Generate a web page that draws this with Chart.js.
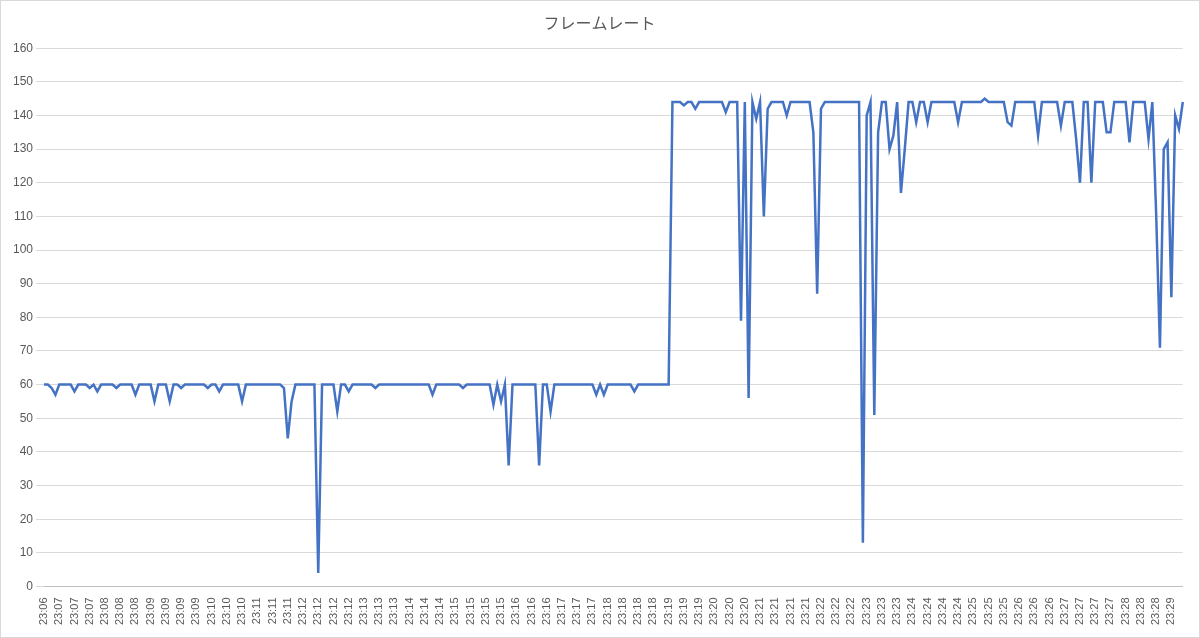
<!DOCTYPE html>
<html>
<head>
<meta charset="utf-8">
<script src="https://cdn.jsdelivr.net/npm/chart.js@4/dist/chart.umd.min.js"></script>
<style>
  body { margin: 0; background: #fff; }
  #wrap { width: 1198px; height: 636px; border: 1px solid #d9d9d9; }
</style>
</head>
<body>
<div id="wrap"><canvas id="myChart"></canvas></div>
<script>
const chartTitle = 'フレームレート';

// one tick label per 4 samples
const tickLabels = [
  '23:06','23:07','23:07','23:07','23:08','23:08','23:08','23:09','23:09','23:09','23:09',
  '23:10','23:10','23:10','23:11','23:11','23:11','23:12','23:12','23:12','23:12',
  '23:13','23:13','23:13','23:14','23:14','23:14','23:15','23:15','23:15','23:15',
  '23:16','23:16','23:16','23:17','23:17','23:17','23:18','23:18','23:18','23:18',
  '23:19','23:19','23:19','23:20','23:20','23:20','23:21','23:21','23:21','23:21',
  '23:22','23:22','23:22','23:23','23:23','23:23','23:24','23:24','23:24','23:24',
  '23:25','23:25','23:25','23:26','23:26','23:26','23:27','23:27','23:27','23:27',
  '23:28','23:28','23:28','23:29'
];

const fps = [
  60,60,59,57,60,60,60,60,58,60,60,60,59,60,58,60,60,60,60,59,
  60,60,60,60,57,60,60,60,60,55,60,60,60,55,60,60,59,60,60,60,
  60,60,60,59,60,60,58,60,60,60,60,60,55,60,60,60,60,60,60,60,
  60,60,60,59,44,55,60,60,60,60,60,60,4,60,60,60,60,52,60,60,
  58,60,60,60,60,60,60,59,60,60,60,60,60,60,60,60,60,60,60,60,
  60,60,57,60,60,60,60,60,60,60,59,60,60,60,60,60,60,60,54,60,
  55,60,36,60,60,60,60,60,60,60,36,60,60,52,60,60,60,60,60,60,
  60,60,60,60,60,57,60,57,60,60,60,60,60,60,60,58,60,60,60,60,
  60,60,60,60,60,144,144,144,143,144,144,142,144,144,144,144,144,144,144,141,
  144,144,144,79,144,56,144,139,144,110,142,144,144,144,144,140,144,144,144,144,
  144,144,135,87,142,144,144,144,144,144,144,144,144,144,144,13,140,144,51,135,
  144,144,130,134,144,117,130,144,144,138,144,144,138,144,144,144,144,144,144,144,
  138,144,144,144,144,144,144,145,144,144,144,144,144,138,137,144,144,144,144,144,
  144,134,144,144,144,144,144,137,144,144,144,133,120,144,144,120,144,144,144,135,
  135,144,144,144,144,132,144,144,144,144,133,144,111,71,130,132,86,140,136,144
];

const labels = fps.map((v, i) => tickLabels[Math.floor(i / 4)]);

const ctx = document.getElementById('myChart').getContext('2d');
new Chart(ctx, {
  type: 'line',
  data: {
    labels: labels,
    datasets: [{
      data: fps,
      borderColor: '#4472C4',
      borderWidth: 2.5,
      pointRadius: 0,
      tension: 0,
      fill: false
    }]
  },
  options: {
    responsive: true,
    maintainAspectRatio: false,
    animation: false,
    layout: { padding: { left: 9, right: 10, top: 4, bottom: 9 } },
    plugins: {
      legend: { display: false },
      tooltip: { enabled: false },
      title: {
        display: true,
        text: chartTitle,
        color: '#595959',
        font: { family: 'Noto Sans CJK JP', size: 16, weight: 'normal' },
        padding: { top: 8, bottom: 16 }
      }
    },
    scales: {
      x: {
        offset: false,
        grid: { display: false },
        border: { color: '#bfbfbf' },
        ticks: {
          autoSkip: false,
          maxRotation: 90,
          minRotation: 90,
          color: '#595959',
          font: { family: 'Liberation Sans', size: 11 },
          callback: function (val, i) { return i % 4 === 0 ? labels[i] : ''; }
        }
      },
      y: {
        min: 0,
        max: 160,
        grid: { color: '#d9d9d9' },
        border: { display: false },
        ticks: {
          stepSize: 10,
          color: '#595959',
          font: { family: 'Liberation Sans', size: 12 }
        }
      }
    }
  }
});
</script>
</body>
</html>
